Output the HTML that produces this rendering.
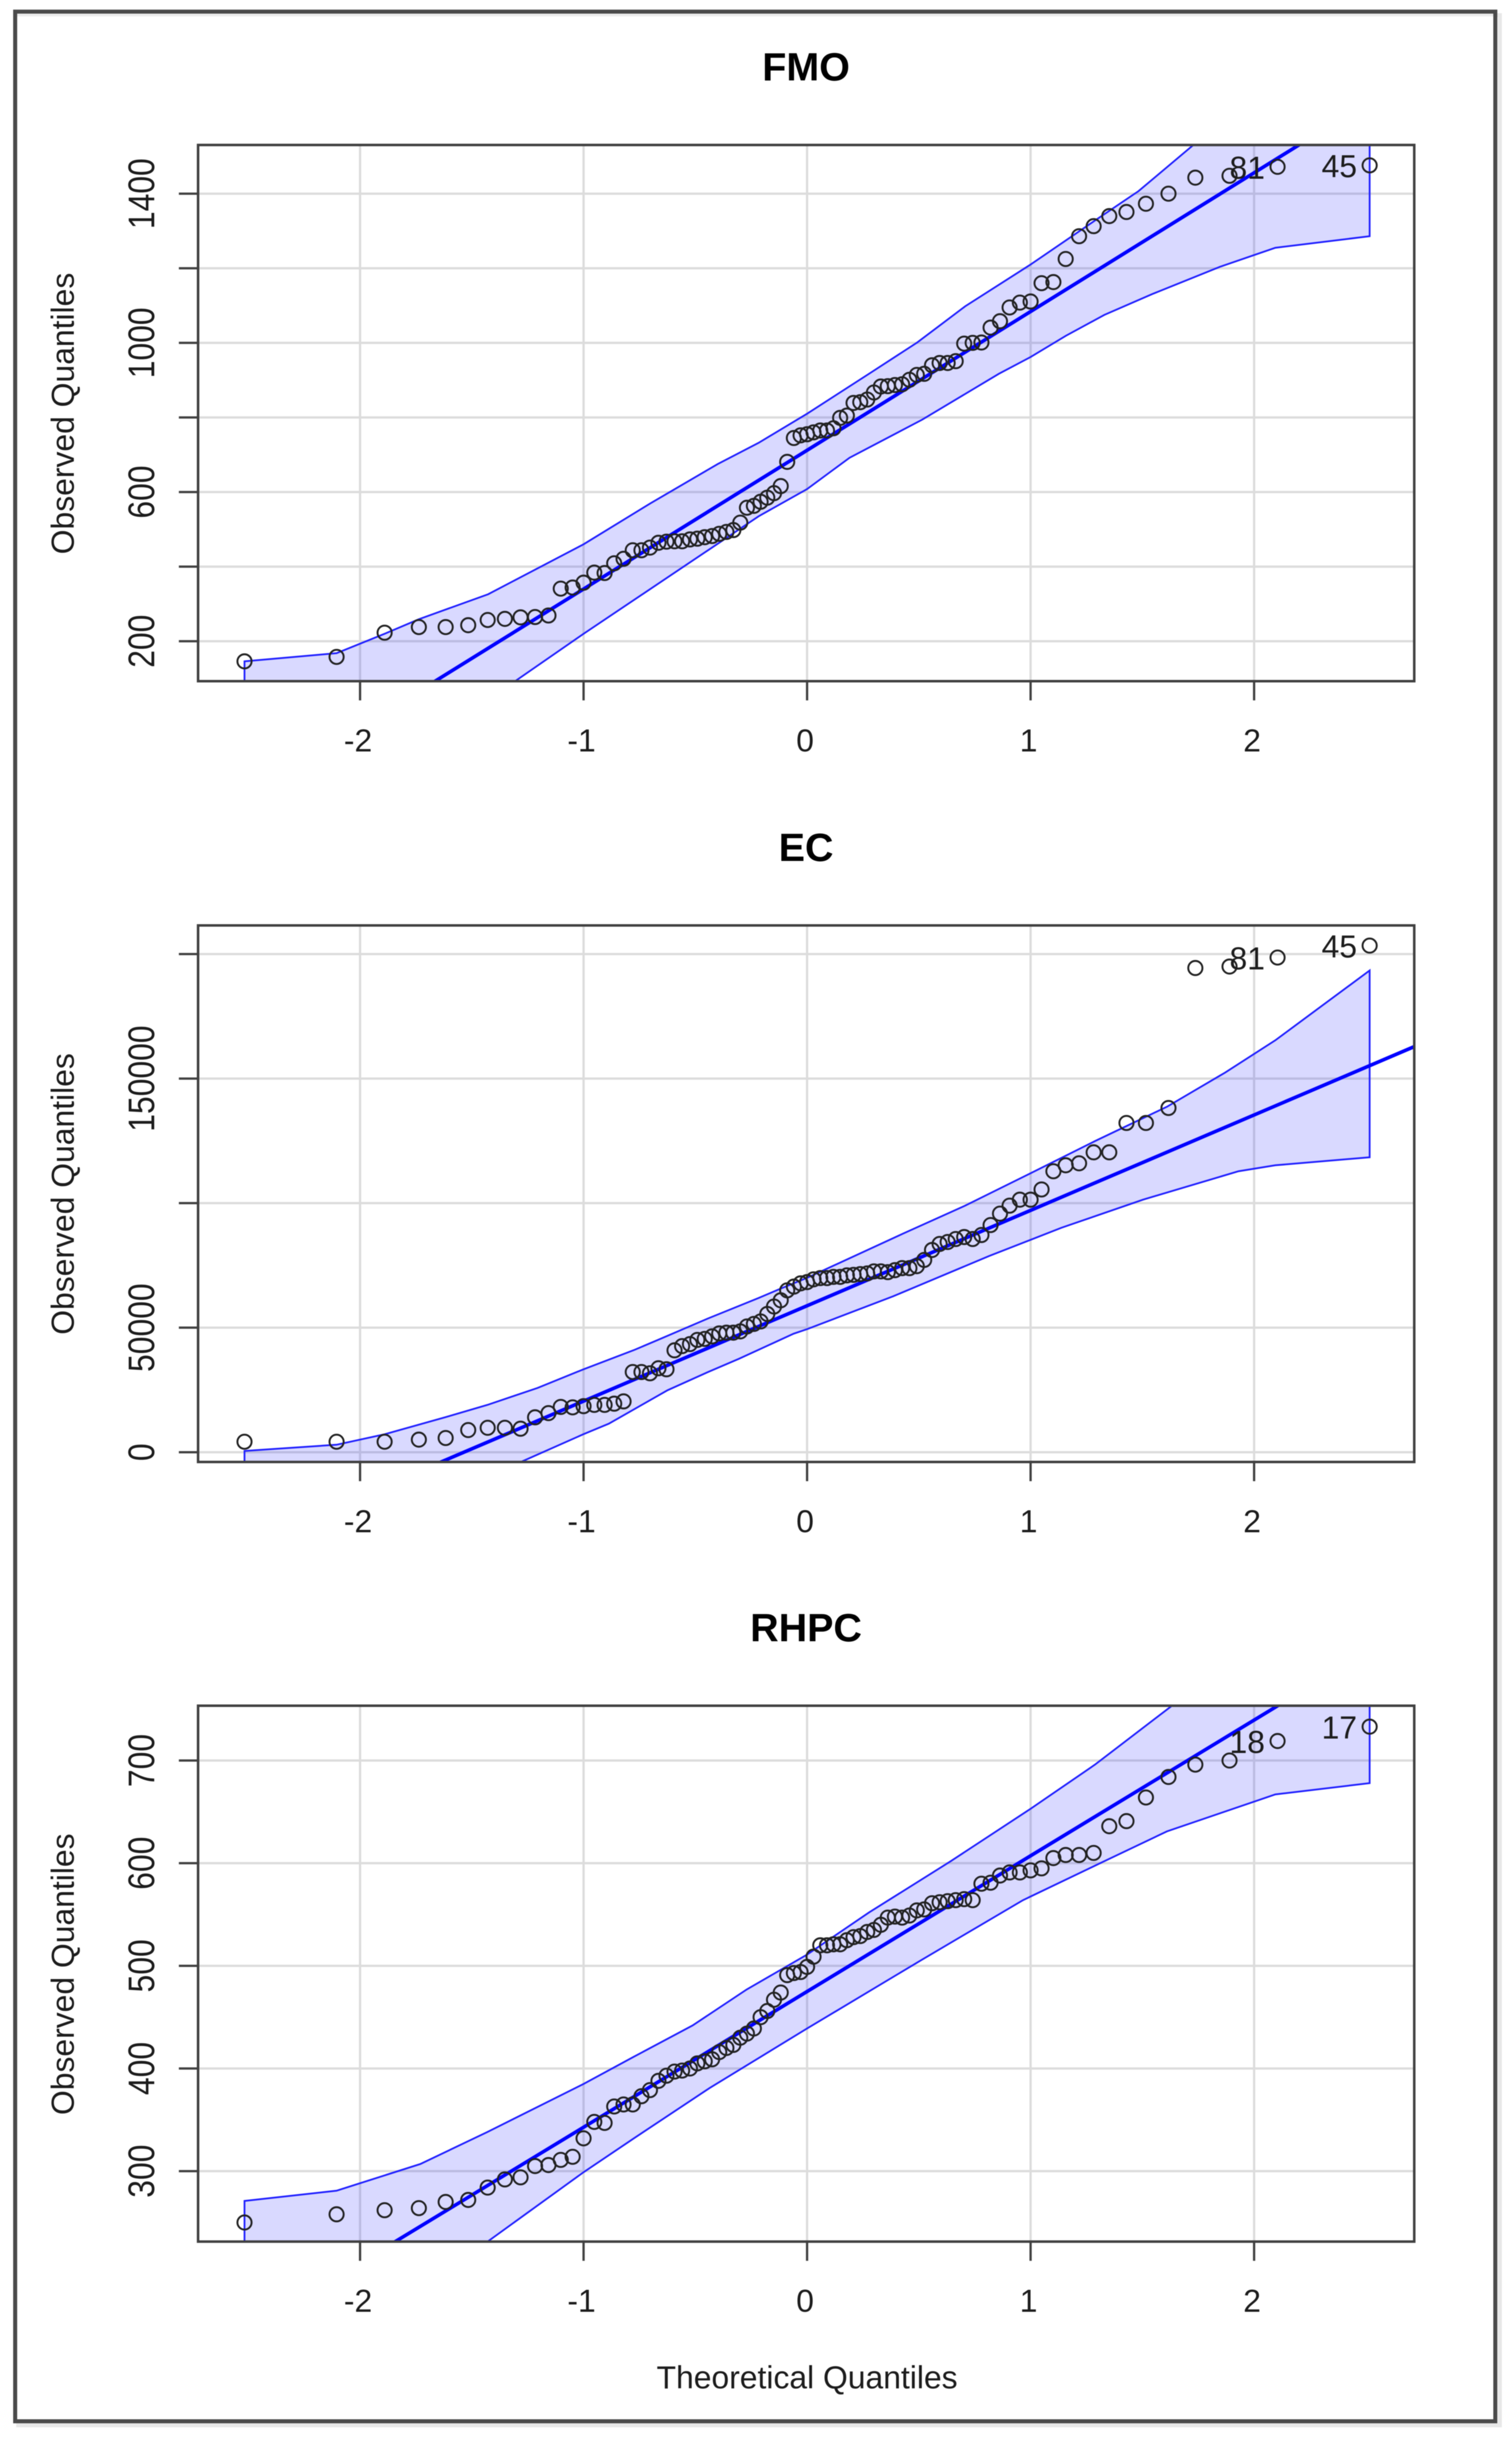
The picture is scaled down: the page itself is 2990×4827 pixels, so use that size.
<!DOCTYPE html>
<html lang="en">
<head>
<meta charset="utf-8">
<title>Q-Q plots: FMO, EC, RHPC</title>
<style>
html,body{margin:0;padding:0;background:#fff;width:2990px;height:4827px;overflow:hidden}
svg{display:block;filter:blur(0.9px)}
text{font-family:"Liberation Sans",Arial,sans-serif;fill:#1c1c1c}
</style>
</head>
<body>
<svg id="figure" xmlns="http://www.w3.org/2000/svg" width="2990" height="4827" viewBox="0 0 2990 4827">
  <rect x="0" y="0" width="2990" height="4827" fill="#ffffff"/>
  <rect x="36" y="30" width="2930" height="4766" fill="none" stroke="#e8e8e8" stroke-width="8"/>
  <rect x="30" y="23" width="2927" height="4765" fill="#ffffff" stroke="#4a4a4a" stroke-width="8"/>
  <line x1="34" y1="30" x2="2953" y2="30" stroke="#ececec" stroke-width="5"/>
  <text x="1596" y="4723" font-size="63" text-anchor="middle">Theoretical Quantiles</text>
</svg>
<script>
const theoreticalQuantiles = [-2.517,-2.105,-1.890,-1.737,-1.617,-1.516,-1.429,-1.352,-1.282,-1.217,-1.157,-1.102,-1.049,-1.000,-0.952,-0.906,-0.863,-0.821,-0.780,-0.741,-0.703,-0.665,-0.629,-0.593,-0.559,-0.524,-0.491,-0.458,-0.425,-0.393,-0.361,-0.330,-0.299,-0.269,-0.238,-0.208,-0.178,-0.148,-0.118,-0.089,-0.059,-0.029,0,0.029,0.059,0.089,0.118,0.148,0.178,0.208,0.238,0.269,0.299,0.330,0.361,0.393,0.425,0.458,0.491,0.524,0.559,0.593,0.629,0.665,0.703,0.741,0.780,0.821,0.863,0.906,0.952,1.000,1.049,1.102,1.157,1.217,1.282,1.352,1.429,1.516,1.617,1.737,1.890,2.105,2.517];

const fmoObserved = [146,158,223,238,238,243,257,260,264,265,269,341,344,357,384,383,409,421,444,444,451,464,467,468,468,473,475,479,482,488,493,498,518,558,563,574,585,597,616,681,745,752,755,760,765,765,771,799,805,839,841,848,867,883,884,887,889,901,914,917,940,946,946,951,998,1000,1001,1041,1058,1095,1108,1111,1160,1163,1225,1286,1313,1340,1351,1373,1400,1443,1448,1472,1476];
const ecObserved = [4210,4210,4210,5050,5700,8900,9800,9800,9430,14000,15700,18200,18000,18500,19000,19000,19500,20400,32200,32200,31700,33700,33300,40900,42600,43400,45100,45500,46500,47700,48000,48000,48500,50500,51500,52500,55500,58500,61000,65000,66500,67800,68300,69400,69900,69900,70400,70400,71000,71200,71500,71800,72600,72600,72300,73100,73900,73900,74700,77200,81200,83600,84400,85600,86400,85600,87200,91200,95800,99000,101400,101400,105500,112800,115200,116000,120400,120400,132200,132200,138200,194400,195000,198600,203400];
const rhpcObserved = [250,258,262,264,270,272,284,292,294,305,306,311,314,332,348,347,363,365,365,373,379,388,393,397,398,400,405,407,409,416,420,423,430,434,439,450,456,467,474,491,493,494,499,509,520,520,521,521,525,528,529,533,535,540,547,548,547,549,554,555,561,562,563,564,565,564,580,581,588,591,591,593,595,605,608,608,610,636,641,664,684,696,700,719,733];

const fmoUpperQ = [-2.517,-2.105,-1.89,-1.737,-1.427,-1,-0.7,-0.4,-0.217,0,0.277,0.4925,0.7075,1,1.288,1.483,1.729,2.105,2.517];
const fmoUpperV = [146,168,220,259,326,460,570,675,732,810,917,1001,1098,1210,1328,1407,1531,1720,1900];
const fmoLowerQ = [-2.517,-1.6,-1.306,-1,-0.217,0,0.19,0.515,0.858,1,1.158,1.33,1.545,1.847,2.095,2.517];
const fmoLowerV = [-400,-10,93,220,535,608,692,794,917,962,1019,1075,1131,1204,1255,1286];

const ecUpperQ = [-2.517,-2.105,-1.89,-1.62,-1.43,-1.206,-1,-0.775,-0.67,-0.443,-0.217,-0.118,0,0.428,0.7075,1,1.288,1.61,1.87,2.095,2.517];
const ecUpperV = [500,3000,7200,14000,19000,25800,33300,41000,45000,53700,61900,65700,70000,87700,99000,112000,124900,138700,152400,165400,193400];
const ecLowerQ = [-2.517,-1.28,-1,-0.887,-0.624,-0.443,-0.305,-0.06,0,0.385,0.815,1.138,1.503,1.93,2.095,2.517];
const ecLowerV = [-50000,-3900,7240,11450,24900,32200,37500,47600,49400,62600,78800,90100,101400,112800,115200,118400];

const rhpcUpperQ = [-2.517,-2.105,-1.73,-1.432,-1,-0.775,-0.512,-0.27,0,0.277,0.643,1,1.288,1.63,2.105,2.517];
const rhpcUpperV = [271,281,307,338,385,411.5,442,477,511,552,602,653,696,753,830,900];
const rhpcLowerQ = [-2.517,-1.8,-1.432,-1,-0.775,-0.436,0,0.514,0.966,1.33,1.61,2.095,2.517];
const rhpcLowerV = [80,180,231,299,332,381,439,506,564,602,631,667,678];

const fmoLine = [712,372];
const ecLine = [58800,38300];
const rhpcLine = [475,132.2];

const xTicks = [-2,-1,0,1,2];
const fmoYTicks = [200,400,600,800,1000,1200,1400];
const fmoYLabels = ["200","","600","","1000","","1400"];
const ecYTicks = [0,50000,100000,150000,200000];
const ecYLabels = ["0","50000","","150000",""];
const rhpcYTicks = [300,400,500,600,700];
const rhpcYLabels = ["300","400","500","600","700"];

const fmoPointLabels = ["81","45"];
const ecPointLabels = ["81","45"];
const rhpcPointLabels = ["18","17"];

const xDomain = [-2.7247,2.7165];
const fmoYDomain = [92.9,1530.6];
const ecYDomain = [-3920,211500];
const rhpcYDomain = [231.4,753.4];

const SVG_NS = "http://www.w3.org/2000/svg";
const figure = document.getElementById("figure");

function make(parent, tag, attrs) {
  const el = document.createElementNS(SVG_NS, tag);
  for (const k in attrs) el.setAttribute(k, attrs[k]);
  parent.appendChild(el);
  return el;
}

function drawPanel(key, title, top, bottom, yDomain, yTicks, yLabels, upQ, upV, loQ, loV, line, observed, pointLabels) {
  const left = 391.7, right = 2796.7, tickLen = 38;
  const xScale = q => left + (q - xDomain[0]) / (xDomain[1] - xDomain[0]) * (right - left);
  const yScale = v => bottom - (v - yDomain[0]) / (yDomain[1] - yDomain[0]) * (bottom - top);

  const g = make(figure, "g", {});
  
  

  const titleEl = make(g, "text", {x: 1594, y: top - 127.5, "font-size": 78, "font-weight": "bold", "text-anchor": "middle", style: "fill:#000"});
  
  
  titleEl.textContent = title;

  const yTitle = make(g, "text", {transform: "translate(146 " + (top + 531) + ") rotate(-90)", "font-size": 63, "text-anchor": "middle"});
  
  
  yTitle.textContent = "Observed Quantiles";

  const clipId = "clip-" + key;
  const clip = make(make(g, "defs", {}), "clipPath", {id: clipId});
  make(clip, "rect", {x: left, y: top, width: right - left, height: bottom - top});

  xTicks.forEach(t => {
    const gl = make(g, "line", {x1: xScale(t), x2: xScale(t), y1: top, y2: bottom, stroke: "#dcdcdc", "stroke-width": 4.5});
    
    
  });
  yTicks.forEach(t => {
    const gl = make(g, "line", {x1: left, x2: right, y1: yScale(t), y2: yScale(t), stroke: "#dcdcdc", "stroke-width": 4.5});
    
    
  });

  const plot = make(g, "g", {"clip-path": "url(#" + clipId + ")"});
  const bandPts = [];
  upQ.forEach((q, i) => bandPts.push(xScale(q).toFixed(1) + "," + yScale(upV[i]).toFixed(1)));
  for (let i = loQ.length - 1; i >= 0; i--) bandPts.push(xScale(loQ[i]).toFixed(1) + "," + yScale(loV[i]).toFixed(1));
  const band = make(plot, "polygon", {points: bandPts.join(" "), fill: "rgba(0,0,255,0.15)", stroke: "#2020ff", "stroke-width": 3.5});
  
  

  const refLine = make(plot, "line", {x1: xScale(xDomain[0]), x2: xScale(xDomain[1]), y1: yScale(line[0] + line[1] * xDomain[0]), y2: yScale(line[0] + line[1] * xDomain[1]), stroke: "#0000ff", "stroke-width": 7});
  
  

  observed.forEach((v, i) => {
    const c = make(plot, "circle", {cx: xScale(theoreticalQuantiles[i]).toFixed(1), cy: yScale(v).toFixed(1), r: 14, fill: "none", stroke: "#222222", "stroke-width": 3.8});
    
    
  });

  pointLabels.forEach((label, i) => {
    const idx = observed.length - pointLabels.length + i;
    const t = make(g, "text", {x: xScale(theoreticalQuantiles[idx]) - 25, y: yScale(observed[idx]) + 23.5, "font-size": 63, "text-anchor": "end"});
    
    
    t.textContent = label;
  });

  const box = make(g, "rect", {x: left, y: top, width: right - left, height: bottom - top, fill: "none", stroke: "#404040", "stroke-width": 5});
  
  

  xTicks.forEach(t => {
    const tick = make(g, "line", {x1: xScale(t), x2: xScale(t), y1: bottom, y2: bottom + tickLen, stroke: "#404040", "stroke-width": 4.5});
    
    
    const lab = make(g, "text", {x: xScale(t) - 4, y: bottom + 139, "font-size": 63, "text-anchor": "middle"});
    
    
    lab.textContent = String(t);
  });
  yTicks.forEach((t, i) => {
    const tick = make(g, "line", {x1: left - tickLen, x2: left, y1: yScale(t), y2: yScale(t), stroke: "#404040", "stroke-width": 4.5});
    
    
    if (yLabels[i]) {
      const lab = make(g, "text", {transform: "translate(305 " + yScale(t).toFixed(1) + ") rotate(-90) scale(1 1.17)", "font-size": 63, "text-anchor": "middle"});
      
      
      lab.textContent = yLabels[i];
    }
  });
}

drawPanel("fmo", "FMO", 286.7, 1347, fmoYDomain, fmoYTicks, fmoYLabels, fmoUpperQ, fmoUpperV, fmoLowerQ, fmoLowerV, fmoLine, fmoObserved, fmoPointLabels);
drawPanel("ec", "EC", 1830, 2891, ecYDomain, ecYTicks, ecYLabels, ecUpperQ, ecUpperV, ecLowerQ, ecLowerV, ecLine, ecObserved, ecPointLabels);
drawPanel("rhpc", "RHPC", 3373, 4432.7, rhpcYDomain, rhpcYTicks, rhpcYLabels, rhpcUpperQ, rhpcUpperV, rhpcLowerQ, rhpcLowerV, rhpcLine, rhpcObserved, rhpcPointLabels);
</script>
</body>
</html>
